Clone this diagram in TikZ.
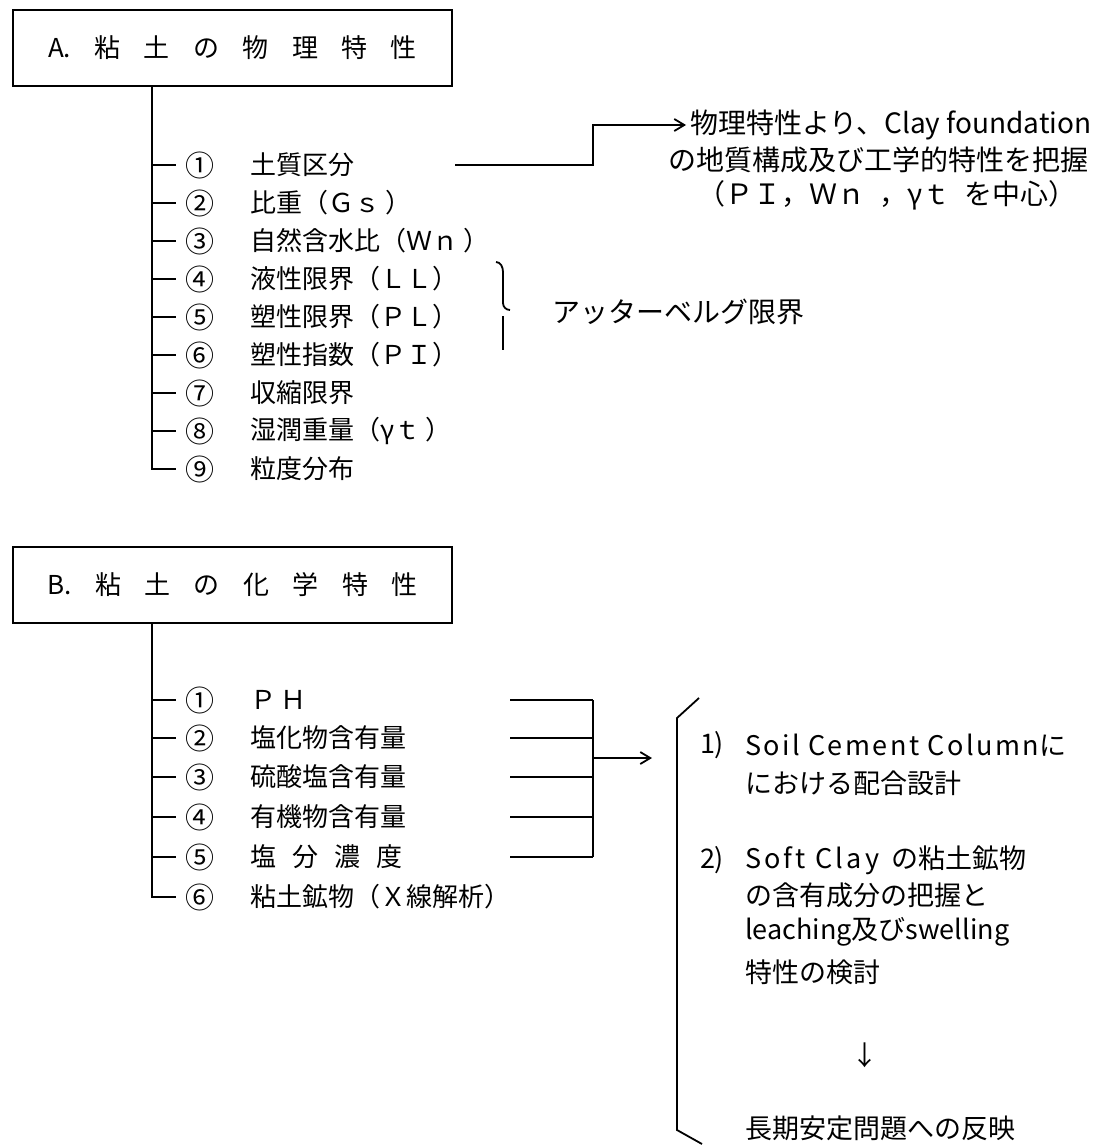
\documentclass[tikz,border=0pt]{standalone}
\usepackage{fontspec}
\setmainfont{Noto Sans CJK JP}
\usetikzlibrary{arrows.meta}
\begin{document}
\begin{tikzpicture}[x=0.5pt,y=-0.5pt,
  every node/.style={inner sep=0pt,outer sep=0pt},
  ln/.style={line width=0.9pt,black},
  titlebox/.style={draw,line width=1pt,minimum width=219.5pt,minimum height=38pt,font=\fontsize{13}{15}\selectfont},
  num/.style={anchor=center,font=\fontsize{14.5}{16}\selectfont},
  itm/.style={anchor=west,font=\fontsize{13}{15}\selectfont},
  rtxt/.style={anchor=west,font=\fontsize{14}{16}\selectfont},
  rtxtb/.style={anchor=west,font=\fontsize{13.5}{16}\selectfont},
  tick/.style={ln,shorten >=5pt},
  arr/.style={ln,-{Straight Barb[length=5pt,width=6pt]}},
]
\useasboundingbox[fill=white] (0,0) rectangle (1118,1145);

% ---------- A ----------
\node[titlebox] (ta) at (232.5,48) {A.\hspace{0.9em}粘\hspace{0.9em}土\hspace{0.9em}の\hspace{0.9em}物\hspace{0.9em}理\hspace{0.9em}特\hspace{0.9em}性};
\foreach \i/\y/\c/\t in {1/165/①/土質区分,2/203/②/比重（Ｇｓ ）,3/241/③/自然含水比（Ｗｎ ）,4/279/④/液性限界（ＬＬ）,5/317/⑤/塑性限界（ＰＬ）,6/355/⑥/塑性指数（ＰＩ）,7/393/⑦/収縮限界,8/431/⑧/湿潤重量（γｔ ）,9/469/⑨/粒度分布}{
  \node[num] (na\i) at (200,\y) {\c};
  \node[itm] (a\i) at (250,\y) {\t};
}
\coordinate (tA) at (152,469);
\draw[tick] (ta.south -| tA) |- (na9);
\foreach \i in {1,...,8}{\draw[tick] (tA |- na\i) -- (na\i);}

\node[rtxt] (rA1) at (690,125) {物理特性より、Clay foundation};
\node[rtxt] (rA2) at (668,160) {の地質構成及び工学的特性を把握};
\node[rtxt] (rA3) at (697,195) {（ＰＩ，Ｗｎ\hspace{0.5em}，γｔ\hspace{0.5em}を中心）};
\coordinate (jA) at (455,165);
\coordinate (kA) at (593,0);
\draw[arr,shorten >=2pt] (jA) -- (jA -| kA) |- (rA1.west);

% Atterberg brace
\coordinate (brT) at (496,262);
\coordinate (brB) at (503,350);
\draw[ln] (brT) to[out=0,in=90] (503,272) -- (503,303) to[out=-90,in=180] (510,310);
\draw[ln] (503,316) -- (brB);
\node[rtxt] (att) at (552,312) {アッターベルグ限界};

% ---------- B ----------
\node[titlebox] (tb) at (232.5,585) {B.\hspace{0.9em}粘\hspace{0.9em}土\hspace{0.9em}の\hspace{0.9em}化\hspace{0.9em}学\hspace{0.9em}特\hspace{0.9em}性};
\foreach \i/\y/\c/\t in {1/700/①/Ｐ\,Ｈ,2/738/②/塩化物含有量,3/777/③/硫酸塩含有量,4/817/④/有機物含有量,5/857/⑤/塩\hspace{0.62em}分\hspace{0.62em}濃\hspace{0.62em}度,6/897/⑥/粘土鉱物（Ｘ線解析）}{
  \node[num] (nb\i) at (200,\y) {\c};
  \node[itm] (b\i) at (250,\y) {\t};
}
\coordinate (tB) at (152,897);
\draw[tick] (tb.south -| tB) |- (nb6);
\foreach \i in {1,...,5}{\draw[tick] (tB |- nb\i) -- (nb\i);}

\coordinate (sB) at (510,0);
\coordinate (kB) at (593,0);
\foreach \i in {1,...,5}{\draw[ln] (sB |- nb\i) -- (kB |- nb\i);}
\draw[ln] (kB |- nb1) -- (kB |- nb5);
\coordinate (aBe) at (652,758);
\draw[arr] (kB |- aBe) -- (aBe);

% big bracket
\coordinate (bbT) at (699,698);
\coordinate (bbU) at (677,718);
\coordinate (bbL) at (677,1130);
\coordinate (bbB) at (702,1144);
\draw[ln] (bbT) -- (bbU) -- (bbL) -- (bbB);

\node[rtxtb] (r1n) at (700,745) {1)};
\node[rtxtb] (r1) at (745,745) {{\addfontfeature{LetterSpace=9}Soil Cement Column}に};
\node[rtxtb] (r1b) at (745,783) {における配合設計};
\node[rtxtb] (r2n) at (700,860) {2)};
\node[rtxtb] (r2) at (745,860) {{\addfontfeature{LetterSpace=12}Soft Clay}\hspace{0.45em}の粘土鉱物};
\node[rtxtb] (r2b) at (745,895) {の含有成分の把握と};
\node[rtxtb] (r2c) at (745,932) {leaching及びswelling};
\node[rtxtb] (r2d) at (745,972) {特性の検討};
\node[rtxtb,anchor=center] (dn) at (865,1055) {↓};
\node[rtxtb] (lt) at (745,1128) {長期安定問題への反映};
\end{tikzpicture}
\end{document}
